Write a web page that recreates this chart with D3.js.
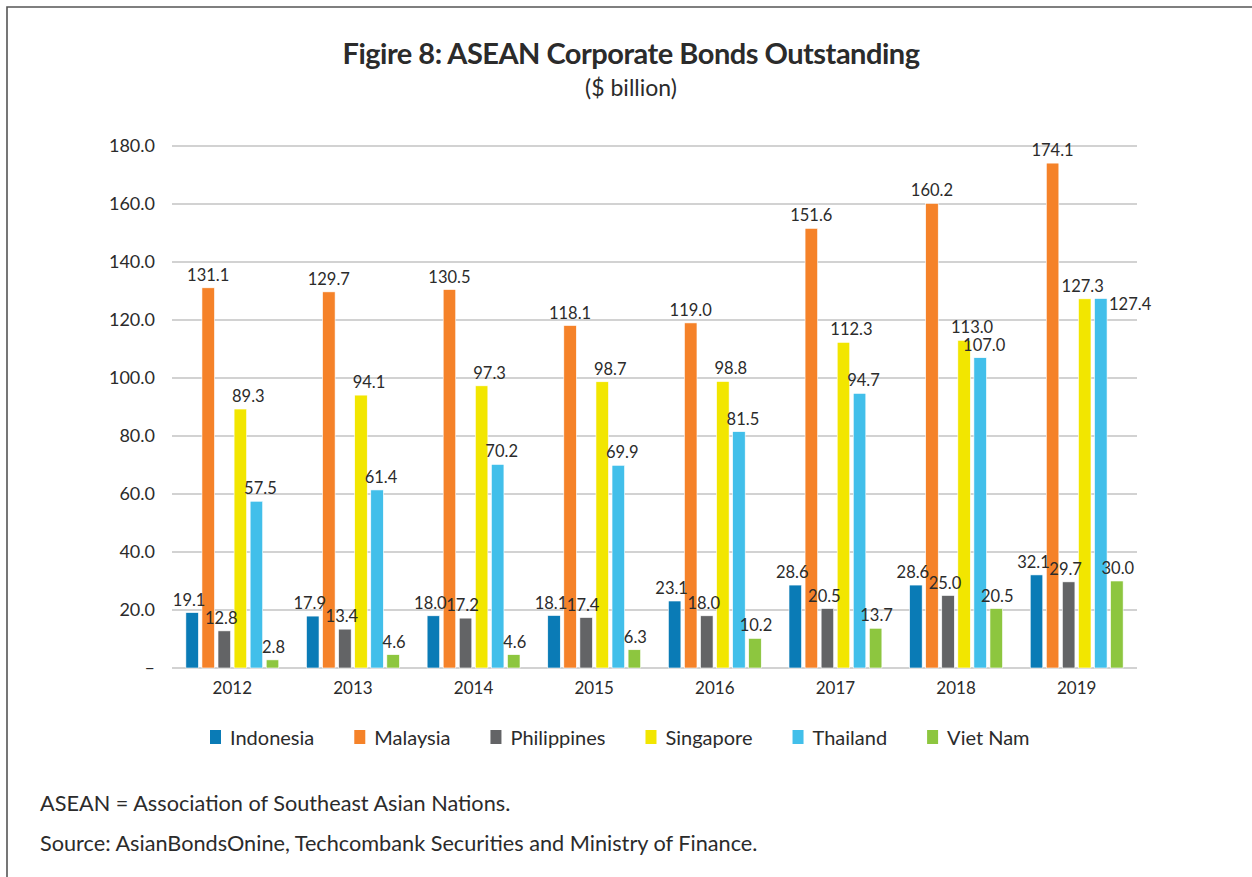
<!DOCTYPE html>
<html>
<head>
<meta charset="utf-8">
<script src="https://cdn.jsdelivr.net/npm/d3@7"></script>
<style>
  body { margin: 0; background: #fff; }
  text { font-family: Lato, "Open Sans", sans-serif; fill: #2b2b2b; }
</style>
</head>
<body>
<div id="chart"></div>
<script>
// chart data
var years = ["2012", "2013", "2014", "2015", "2016", "2017", "2018", "2019"];
var countries = ["Indonesia", "Malaysia", "Philippines", "Singapore", "Thailand", "Viet Nam"];
var indonesia = [19.1, 17.9, 18.0, 18.1, 23.1, 28.6, 28.6, 32.1];
var malaysia = [131.1, 129.7, 130.5, 118.1, 119.0, 151.6, 160.2, 174.1];
var philippines = [12.8, 13.4, 17.2, 17.4, 18.0, 20.5, 25.0, 29.7];
var singapore = [89.3, 94.1, 97.3, 98.7, 98.8, 112.3, 113.0, 127.3];
var thailand = [57.5, 61.4, 70.2, 69.9, 81.5, 94.7, 107.0, 127.4];
var vietnam = [2.8, 4.6, 4.6, 6.3, 10.2, 13.7, 20.5, 30.0];
var yTicks = [0, 20, 40, 60, 80, 100, 120, 140, 160, 180];

var seriesValues = [indonesia, malaysia, philippines, singapore, thailand, vietnam];
var colors = ["#0a7bb6", "#f58229", "#636466", "#f2e600", "#42bfea", "#8dc63f"];
// small sideways nudge of value labels per series
var labelShift = [-3, 0, -3, 8, 4, 1];

var svgWidth = 1252;
var svgHeight = 877;
var margin = { top: 146, right: 115, bottom: 209, left: 172 };
var width = svgWidth - margin.left - margin.right;
var height = svgHeight - margin.top - margin.bottom;

var svg = d3.select("#chart")
  .append("svg")
  .attr("width", svgWidth)
  .attr("height", svgHeight);

// frame (top and left edges)
svg.append("path")
  .attr("d", "M7," + svgHeight + " V7 H" + svgWidth)
  .attr("fill", "none")
  .attr("stroke", "#555")
  .attr("stroke-width", 1.6);

// titles
svg.append("text")
  .attr("x", 631)
  .attr("y", 64)
  .attr("text-anchor", "middle")
  .attr("font-size", "29px")
  .attr("font-weight", "bold")
  .attr("letter-spacing", "-0.5px")
  .text("Figire 8: ASEAN Corporate Bonds Outstanding");

svg.append("text")
  .attr("x", 631)
  .attr("y", 96)
  .attr("text-anchor", "middle")
  .attr("font-size", "23px")
  .text("($ billion)");

var chartGroup = svg.append("g")
  .attr("transform", `translate(${margin.left}, ${margin.top})`);

// scales
var x0 = d3.scaleBand()
  .domain(years)
  .range([0, width])
  .paddingInner(0.23)
  .paddingOuter(0.115);

var x1 = d3.scaleBand()
  .domain(countries)
  .range([0, x0.bandwidth()])
  .paddingInner(0.22);

var y = d3.scaleLinear()
  .domain([0, 180])
  .range([height, 0]);

// gridlines
chartGroup.selectAll(".grid")
  .data(yTicks)
  .enter()
  .append("line")
  .attr("x1", 0)
  .attr("x2", width)
  .attr("y1", d => y(d))
  .attr("y2", d => y(d))
  .attr("stroke", "#a6a6a6")
  .attr("stroke-width", 1.2);

// y axis labels
var leftAxis = d3.axisLeft(y)
  .tickValues(yTicks)
  .tickSize(0)
  .tickPadding(17)
  .tickFormat(d => d === 0 ? "–" : d3.format(".1f")(d));

var yAxis = chartGroup.append("g").call(leftAxis);
yAxis.select(".domain").remove();
yAxis.selectAll("text")
  .attr("font-size", "18px")
  .attr("fill", "#2b2b2b")
  .style("font-family", "Lato, sans-serif");

// x axis labels
var bottomAxis = d3.axisBottom(x0).tickSize(0).tickPadding(14);
var xAxis = chartGroup.append("g")
  .attr("transform", `translate(0, ${height})`)
  .call(bottomAxis);
xAxis.select(".domain").remove();
xAxis.selectAll("text")
  .attr("font-size", "17px")
  .attr("fill", "#2b2b2b")
  .style("font-family", "Lato, sans-serif");

// bars
var rows = [];
years.forEach(function(yr, i) {
  countries.forEach(function(c, j) {
    rows.push({ year: yr, country: c, idx: j, yi: i, value: seriesValues[j][i] });
  });
});

// a Thailand label that would sit on top of the Singapore one goes beside its bar
function besideBar(d) {
  return d.idx === 4 && Math.abs(d.value - singapore[d.yi]) < 5;
}
function crowded(d) {
  return d.idx === 3 && Math.abs(d.value - thailand[d.yi]) < 5;
}

var groups = chartGroup.selectAll(".year")
  .data(years)
  .enter()
  .append("g")
  .attr("transform", d => `translate(${x0(d)}, 0)`);

groups.selectAll("rect")
  .data(yr => rows.filter(r => r.year === yr))
  .enter()
  .append("rect")
  .attr("x", d => x1(d.country))
  .attr("y", d => y(d.value))
  .attr("width", x1.bandwidth())
  .attr("height", d => height - y(d.value))
  .attr("fill", d => colors[d.idx])
  .attr("stroke", "#fff")
  .attr("stroke-width", 0.6);

// value labels
groups.selectAll(".val")
  .data(yr => rows.filter(r => r.year === yr))
  .enter()
  .append("text")
  .attr("x", function(d) {
    if (besideBar(d)) return x1(d.country) + x1.bandwidth() + 2;
    var shift = crowded(d) ? -2 : labelShift[d.idx];
    return x1(d.country) + x1.bandwidth() / 2 + shift;
  })
  .attr("y", d => besideBar(d) ? y(d.value) + 11 : y(d.value) - 7)
  .attr("text-anchor", d => besideBar(d) ? "start" : "middle")
  .attr("font-size", "16.5px")
  .text(d => d3.format(".1f")(d.value));

// legend
var legend = svg.append("g")
  .attr("transform", "translate(0, 738)");

var legendX = 210;
countries.forEach(function(c, i) {
  legend.append("rect")
    .attr("x", legendX)
    .attr("y", -8)
    .attr("width", 11)
    .attr("height", 14)
    .attr("fill", colors[i]);
  var t = legend.append("text")
    .attr("x", legendX + 20)
    .attr("y", 7)
    .attr("font-size", "20px")
    .text(c);
  legendX += 20 + t.node().getComputedTextLength() + 40;
});

// footnotes
svg.append("text")
  .attr("x", 40)
  .attr("y", 811)
  .attr("font-size", "21.7px")
  .text("ASEAN = Association of Southeast Asian Nations.");

svg.append("text")
  .attr("x", 40)
  .attr("y", 851)
  .attr("font-size", "21.7px")
  .text("Source: AsianBondsOnine, Techcombank Securities and Ministry of Finance.");
</script>
</body>
</html>
